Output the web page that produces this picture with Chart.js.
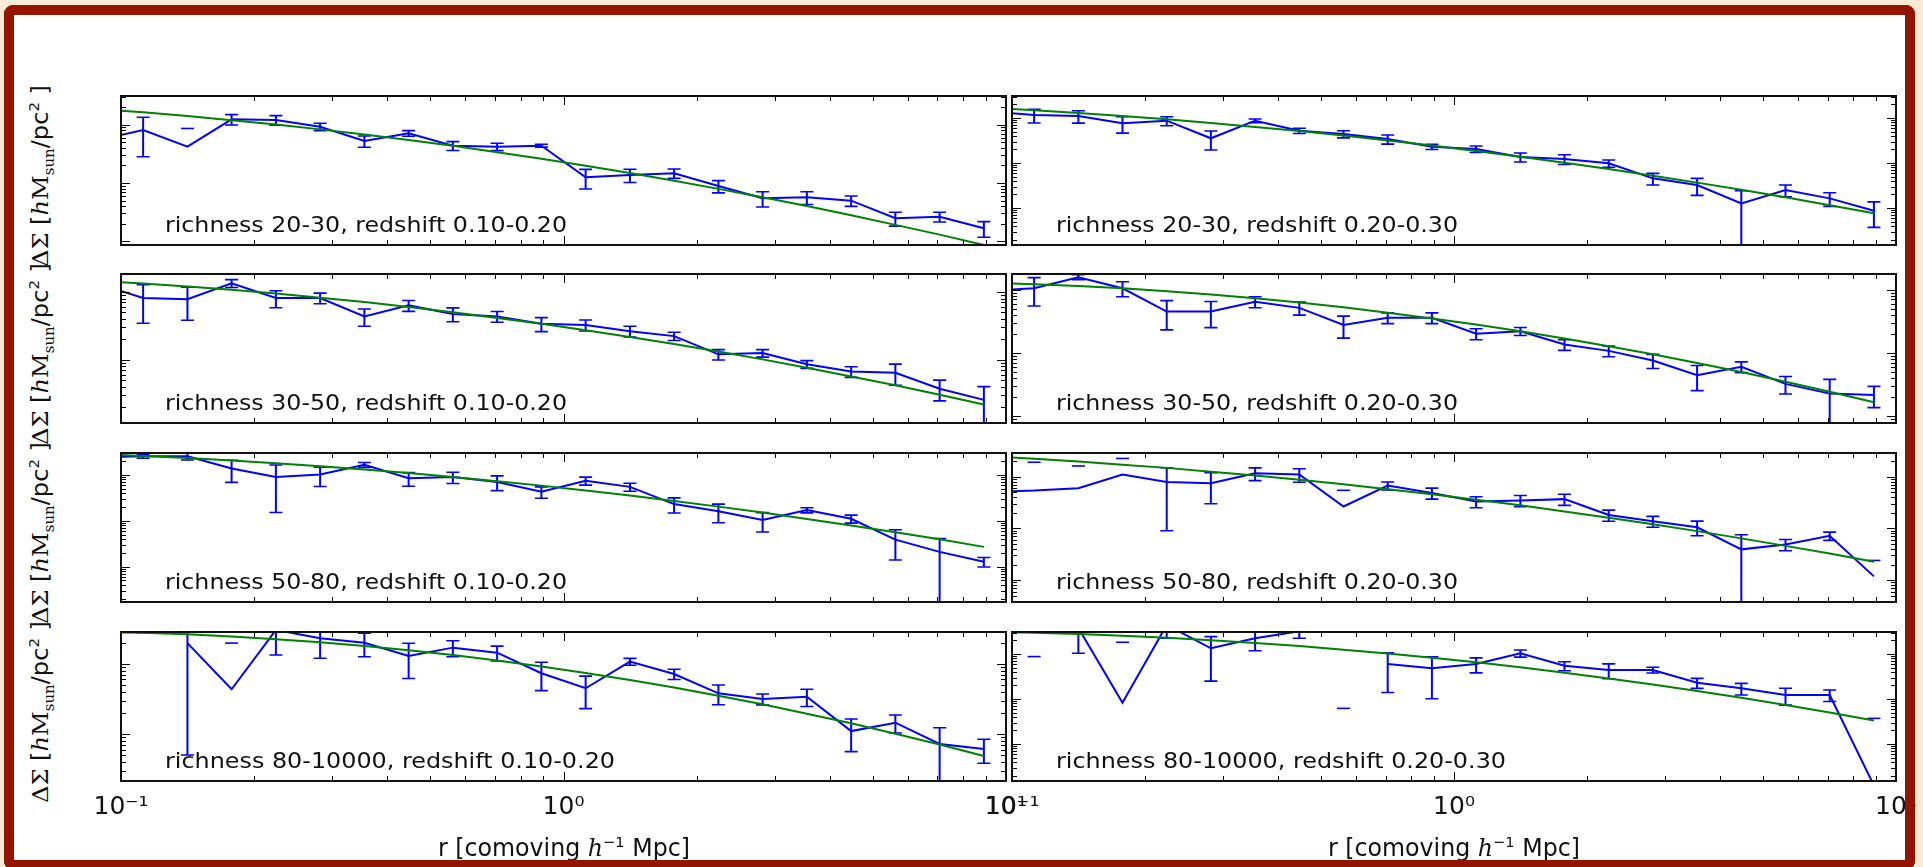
<!DOCTYPE html>
<html>
<head>
<meta charset="utf-8">
<title>Delta Sigma profiles</title>
<script src="https://cdn.jsdelivr.net/npm/chart.js@4.4.1/dist/chart.umd.min.js"></script>
<style>
  html, body { margin: 0; padding: 0; }
  body { position: relative; width: 1923px; height: 867px; overflow: hidden; background: #f8ead7;
         font-family: "DejaVu Sans", sans-serif; color: #111; }
  .frame { position: absolute; left: 4px; top: 5px; width: 1891px; height: 845px;
           border: 10px solid #921500; border-radius: 9px; }
  #paper { background: #fff; z-index: 0; }
  #rim { z-index: 3; pointer-events: none; }
  canvas { position: absolute; z-index: 1; }
  .note { position: absolute; z-index: 2; font-size: 22px; line-height: 22px; white-space: nowrap;
          transform-origin: 0 0; }
  .xtitle { position: absolute; z-index: 2; width: 400px; font-size: 24px; line-height: 28px;
            text-align: center; white-space: nowrap; }
  .ytitle { position: absolute; z-index: 2; width: 300px; height: 30px; line-height: 30px; font-size: 23px;
            text-align: center; white-space: nowrap; }
  .serif { font-family: "DejaVu Serif", serif; }
  sub, sup { font-size: 62%; line-height: 0; }
</style>
</head>
<body>
<div id="paper" class="frame"></div>
<div id="rim" class="frame"></div>
<script>
// radial bin centres [comoving Mpc/h]; the first bin sits just left of the plotted range
const radius = [0.0891, 0.1122, 0.1413, 0.1778, 0.2239, 0.2818, 0.3548, 0.4467, 0.5623, 0.7079,
                0.8913, 1.122, 1.413, 1.778, 2.239, 2.818, 3.548, 4.467, 5.623, 7.079, 8.913];

const richnessBins = ['20-30', '30-50', '50-80', '80-10000'];
const redshiftBins = ['0.10-0.20', '0.20-0.30'];

const xTickVals = [0.1, 1, 10];
const xTickText = ['10\u207b\u00b9', '10\u2070', '10\u00b9'];

// Delta Sigma measurement, 1-sigma error and model fit for every panel
const obs20_30_z1 = [54.8, 81.1, 42, 123.6, 120.2, 92.3, 52.5, 71.1, 43.6, 41.9, 43.6, 12.5, 13.7, 14.7, 8.87, 5.46, 5.68, 4.97, 2.48, 2.64, 1.67];
const err20_30_z1 = [5, 53, 44, 24.7, 22.4, 13.4, 11.5, 7.8, 7.5, 6.1, 2.5, 4.6, 3.5, 2.7, 2.1, 1.6, 1.4, 1.0, 0.66, 0.5, 0.5];
const fit20_30_z1 = [185, 162.6, 140.3, 119.4, 100.2, 83.0, 67.9, 54.5, 43.3, 33.7, 26.0, 19.7, 14.8, 10.9, 7.92, 5.68, 4.01, 2.79, 1.91, 1.30, 0.863];

const obs20_30_z2 = [138, 116.7, 110.9, 76.2, 87.1, 35.4, 87.1, 52.2, 44.2, 34.1, 23.0, 20.5, 13.6, 12.3, 9.84, 4.57, 3.24, 1.27, 2.51, 1.64, 0.871];
const err20_30_z2 = [10, 39, 34, 30, 19.8, 16, 8, 6.8, 8, 7.8, 3.1, 3.4, 3.1, 3.0, 1.8, 1.33, 1.33, 1.15, 0.73, 0.55, 0.5];
const fit20_30_z2 = [168.7, 148.3, 129.1, 110.9, 93.5, 77.4, 63.4, 51.2, 40.6, 31.6, 24.4, 18.5, 13.8, 10.1, 7.33, 5.22, 3.67, 2.54, 1.73, 1.15, 0.762];

const obs30_50_z1 = [131.5, 81.5, 78.2, 134.3, 81.5, 81.5, 43.6, 63.4, 47.3, 43.6, 33.9, 32.5, 26.4, 22.3, 12.0, 12.5, 8.57, 6.67, 6.40, 3.72, 2.55];
const err30_50_z1 = [10, 47, 40, 18, 23, 14.6, 12.4, 11.6, 11, 7.9, 7.9, 6, 4.8, 3.1, 2.1, 1.6, 1.13, 1.2, 2.2, 1.26, 1.45];
const fit30_50_z1 = [146, 133.7, 120.5, 107.6, 95.1, 82.4, 71.0, 60.1, 50.2, 41.4, 33.9, 27.3, 21.7, 17.0, 13.2, 10.1, 7.62, 5.66, 4.18, 3.03, 2.18];

const obs30_50_z2 = [96.4, 105.4, 157.8, 105.4, 45.2, 45.2, 64.6, 51.6, 27.7, 36.1, 36.1, 20.2, 22.1, 13.6, 10.8, 7.59, 4.44, 6.07, 3.25, 2.28, 2.17];
const err30_50_z2 = [10, 50, 14, 28, 22, 20, 12.7, 12, 10.5, 7, 7, 4, 3.2, 2.6, 2.1, 1.9, 1.9, 1.17, 1.0, 1.55, 0.8];
const fit30_50_z2 = [128.8, 122.2, 114.3, 105.0, 94.8, 83.9, 73.1, 62.5, 52.6, 43.4, 35.2, 28.1, 22.0, 16.9, 12.8, 9.53, 6.97, 5.01, 3.52, 2.44, 1.66];

const obs50_80_z1 = [242, 257, 257, 139, 90.2, 102, 167, 84.7, 90.2, 70.5, 43.1, 75, 55.1, 23.2, 16.1, 10.4, 17.1, 11.1, 3.89, 2.1, 1.28];
const err50_80_z1 = [20, 25, 45, 70, 75, 46, 20, 28, 25, 25, 12, 15, 11, 8.4, 7, 4.7, 2.2, 2.2, 2.5, 2.0, 0.3];
const fit50_80_z1 = [286, 261, 234, 207, 181, 155, 131.5, 110, 90.2, 73.1, 58.6, 45.8, 35.6, 27.1, 20.4, 15.2, 11.0, 7.94, 5.62, 3.94, 2.70];

const obs50_80_z2 = [51, 54, 60, 110, 79, 75, 116, 110, 26.5, 67.1, 48.4, 33.0, 34.8, 36.8, 18.1, 13.8, 10.5, 3.93, 4.89, 7.16, 1.18];
const err50_80_z2 = [5, 136, 101, 115, 70, 45, 32, 32, 28, 12, 11.6, 8, 8.5, 9, 4.4, 3.3, 3.3, 3.6, 1.2, 1.3, 1.22];
const fit50_80_z2 = [248, 222, 196, 171, 148, 125, 105, 86.9, 71.0, 57.3, 45.6, 35.8, 27.9, 21.3, 16.1, 12.0, 8.85, 6.41, 4.59, 3.26, 2.27];

const obs80_up_z1 = [null, -40, 198, 43.5, 306, 233, 201, 130, 171, 145, 73.6, 45, 108, 71.9, 38.1, 31.6, 34.1, 11.0, 14.5, 7.19, 6.11];
const err80_up_z1 = [0, 320, 193, 155, 172, 112.5, 74, 68, 44, 35, 32, 22, 12, 12, 12, 5.6, 9.4, 5.4, 4.2, 5.1, 2.3];
const fit80_up_z1 = [287, 278, 265, 247, 226, 204, 180, 157, 134, 112, 92.0, 74.3, 59.0, 46.0, 35.2, 26.5, 19.5, 14.2, 10.1, 7.08, 4.86];

const obs80_up_z2 = [null, -20, 378, 8.28, 442, 134, 223, 320, -5, 60, 48.1, 60, 104, 55, 44.2, 44.2, 23.0, 17.3, 12.3, 12.3, 0.12];
const err80_up_z2 = [0, 107.5, 274, 173.7, 219, 109, 105, 97, 11.2, 46, 38, 22, 19, 12.5, 16, 6.5, 5.8, 5, 5, 3.5, 3.6];
const fit80_up_z2 = [310, 296, 277, 254, 229, 203, 176, 150, 125, 103, 82.8, 65.5, 50.7, 38.5, 28.7, 21.1, 15.1, 10.7, 7.40, 5.01, 3.35];

// y limits per panel, rows top to bottom, left panel then right panel
const yLow  = [0.863, 0.151, 1.16, 0.783, 0.169, 0.377, 2.13, 0.151];
const yHigh = [310, 308, 184.5, 177, 302, 287, 286, 308];

const panelData = [
    [obs20_30_z1, err20_30_z1, fit20_30_z1], [obs20_30_z2, err20_30_z2, fit20_30_z2],
    [obs30_50_z1, err30_50_z1, fit30_50_z1], [obs30_50_z2, err30_50_z2, fit30_50_z2],
    [obs50_80_z1, err50_80_z1, fit50_80_z1], [obs50_80_z2, err50_80_z2, fit50_80_z2],
    [obs80_up_z1, err80_up_z1, fit80_up_z1], [obs80_up_z2, err80_up_z2, fit80_up_z2]
];

// page layout
const colLeft = [121, 1012], colWidth = [885, 884];
const rowTop = [96, 274, 453, 632], rowHeight = 149;
const PAD = 40, PADT = 12, AXIS_H = 50;

function logTicks(min, max) {
    const out = [];
    for (let e = Math.floor(Math.log10(min)); e <= Math.ceil(Math.log10(max)); e++) {
        for (let m = 1; m <= 9; m++) {
            const v = m * Math.pow(10, e);
            if (v >= min * 0.9999 && v <= max * 1.0001) out.push({ v, major: m === 1 });
        }
    }
    return out;
}

// symmetric error bars; the lower half is dropped when it goes below zero
const errorBars = {
    id: 'errorBars',
    beforeDatasetsDraw(chart) {
        const { ctx, chartArea: a, scales: { x, y } } = chart;
        ctx.save();
        ctx.beginPath();
        ctx.rect(a.left, a.top, a.width, a.height);
        ctx.clip();
        ctx.strokeStyle = '#0000ff';
        chart.data.datasets.forEach(ds => {
            if (!ds.errors) return;
            ds.data.forEach((p, i) => {
                const e = ds.errors[i];
                if (p.y == null || !e) return;
                const hi = p.y + e, lo = p.y - e;
                if (hi <= 0) return;
                const px = x.getPixelForValue(p.x);
                const yHi = y.getPixelForValue(hi);
                ctx.lineWidth = 1.6;
                ctx.beginPath();
                ctx.moveTo(px - 6.5, yHi); ctx.lineTo(px + 6.5, yHi);
                if (lo > 0) {
                    const yLo = y.getPixelForValue(lo);
                    ctx.moveTo(px - 6.5, yLo); ctx.lineTo(px + 6.5, yLo);
                    ctx.stroke();
                    ctx.lineWidth = 2;
                    ctx.beginPath();
                    ctx.moveTo(px, yHi); ctx.lineTo(px, yLo);
                }
                ctx.stroke();
            });
        });
        ctx.restore();
    }
};

// matplotlib style box with inward ticks on all four sides
const frameTicks = {
    id: 'frameTicks',
    afterDraw(chart) {
        const { ctx, chartArea: a, scales: { x, y } } = chart;
        ctx.save();
        ctx.strokeStyle = '#000';
        ctx.lineWidth = 1;
        ctx.beginPath();
        logTicks(x.min, x.max).forEach(t => {
            const px = Math.round(x.getPixelForValue(t.v)) + 0.5;
            const len = t.major ? 9 : 5;
            ctx.moveTo(px, a.top); ctx.lineTo(px, a.top + len);
            ctx.moveTo(px, a.bottom); ctx.lineTo(px, a.bottom - len);
        });
        logTicks(y.min, y.max).forEach(t => {
            const py = Math.round(y.getPixelForValue(t.v)) + 0.5;
            const len = t.major ? 9 : 5;
            ctx.moveTo(a.left, py); ctx.lineTo(a.left + len, py);
            ctx.moveTo(a.right, py); ctx.lineTo(a.right - len, py);
        });
        ctx.stroke();
        ctx.lineWidth = 2;
        ctx.strokeStyle = '#111';
        ctx.strokeRect(a.left, a.top, a.width, a.height);
        ctx.restore();
    }
};

// stretch a text element so that its run is exactly `len` pixels long
function fitLength(el, len, extra) {
    const w = el.firstChild.getBoundingClientRect().width;
    el.style.transform = (extra || '') + ' scaleX(' + (len / w).toFixed(4) + ')';
}

richnessBins.forEach((rich, row) => {
    redshiftBins.forEach((z, col) => {
        const idx = row * 2 + col;
        const [obs, err, fit] = panelData[idx];
        const bottomRow = row === richnessBins.length - 1;
        const axisH = bottomRow ? AXIS_H : 0;
        const padB = bottomRow ? 8 : PADT;

        const cv = document.createElement('canvas');
        cv.width = colWidth[col] + 2 * PAD;
        cv.height = rowHeight + PADT + axisH + padB;
        cv.style.left = (colLeft[col] - PAD) + 'px';
        cv.style.top = (rowTop[row] - PADT) + 'px';
        document.body.appendChild(cv);

        new Chart(cv, {
            type: 'line',
            data: {
                datasets: [
                    {
                        label: 'model',
                        data: radius.map((r, i) => ({ x: r, y: fit[i] })),
                        borderColor: '#008000',
                        borderWidth: 2,
                        pointRadius: 0
                    },
                    {
                        label: 'measured',
                        data: radius.map((r, i) => ({ x: r, y: obs[i] })),
                        errors: err,
                        borderColor: '#0000ff',
                        borderWidth: 2,
                        pointRadius: 0
                    }
                ]
            },
            options: {
                responsive: false,
                animation: false,
                devicePixelRatio: 1,
                events: [],
                layout: { padding: { left: PAD, right: PAD, top: PADT, bottom: padB } },
                scales: {
                    x: {
                        type: 'logarithmic',
                        min: 0.1,
                        max: 10,
                        display: bottomRow,
                        grid: { display: false },
                        border: { display: false },
                        afterBuildTicks: s => { s.ticks = xTickVals.map(v => ({ value: v })); },
                        afterFit: s => { if (bottomRow) s.height = AXIS_H; },
                        ticks: {
                            autoSkip: false,
                            maxRotation: 0,
                            padding: 3,
                            color: '#111',
                            font: { family: 'DejaVu Sans', size: 25 },
                            callback: (v, i) => xTickText[i]
                        }
                    },
                    y: {
                        type: 'logarithmic',
                        min: yLow[idx],
                        max: yHigh[idx],
                        display: false
                    }
                },
                plugins: { legend: { display: false }, tooltip: { enabled: false } }
            },
            plugins: [errorBars, frameTicks]
        });

        const note = document.createElement('div');
        note.className = 'note';
        note.innerHTML = '<span>richness ' + rich + ', redshift ' + z + '</span>';
        note.style.left = (colLeft[col] + 44) + 'px';
        note.style.top = (rowTop[row] + 118) + 'px';
        document.body.appendChild(note);
        const runs = { '20-30': 402, '30-50': 402, '50-80': 402, '80-10000': 450 };
        fitLength(note, runs[rich] || 402);
    });

    const yt = document.createElement('div');
    yt.className = 'ytitle';
    yt.innerHTML = '<span><span class="serif">\u0394\u03a3</span> [<span class="serif"><i>h</i>M<sub>sun</sub></span>/pc<sup>2</sup> ]</span>';
    yt.style.left = (40 - 150) + 'px';
    yt.style.top = (rowTop[row] + rowHeight / 2 + 5 - 15) + 'px';
    document.body.appendChild(yt);
    fitLength(yt, 182, 'rotate(-90deg)');
});

redshiftBins.forEach((z, col) => {
    const xt = document.createElement('div');
    xt.className = 'xtitle';
    xt.innerHTML = '<span>r [comoving <i class="serif">h</i><sup>\u22121</sup> Mpc]</span>';
    xt.style.left = (colLeft[col] + colWidth[col] / 2 - 200) + 'px';
    xt.style.top = '834px';
    document.body.appendChild(xt);
    fitLength(xt, 252);
});
</script>
</body>
</html>
